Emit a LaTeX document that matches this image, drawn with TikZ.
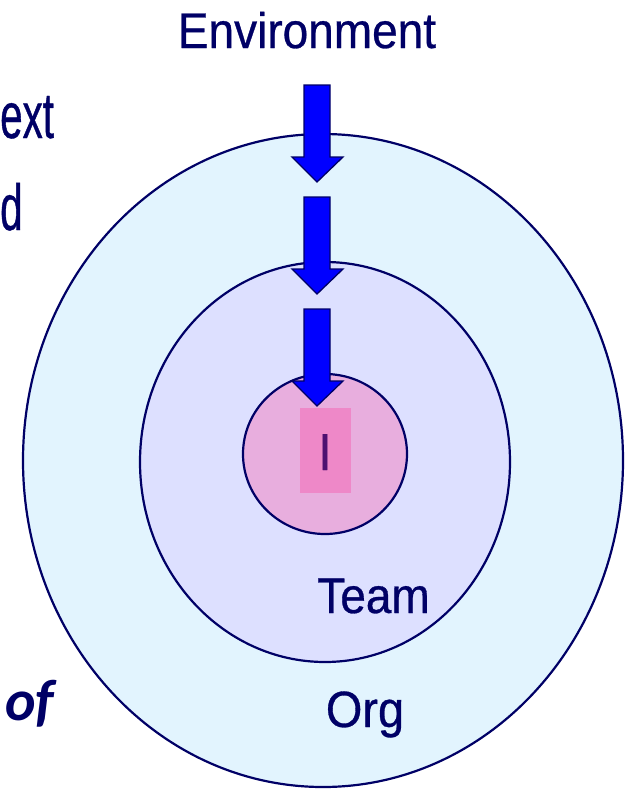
\documentclass[tikz,border=0pt]{standalone}
\usepackage{fontspec}
\setmainfont{Liberation Sans}
\newfontfamily\narrowfont[FakeStretch=0.92,FakeBold=0.6]{Liberation Sans}
\newfontfamily\condfont[FakeStretch=0.62,FakeBold=0.6]{Liberation Sans}
\newfontfamily\carlfont{Carlito}
\definecolor{navy}{RGB}{0,0,102}
\definecolor{orgfill}{RGB}{226,244,254}
\definecolor{teamfill}{RGB}{221,224,255}
\definecolor{ifill}{RGB}{232,174,222}
\definecolor{irect}{RGB}{238,136,200}
\definecolor{itext}{RGB}{78,16,112}
\definecolor{arrowblue}{RGB}{0,0,255}
\newcommand\blkarrow[2]{%
  \draw[arrowpoly] (304,#1) -- (330,#1) -- (330,#1+72) -- (343,#1+72)
    -- (317,#1+97) -- (292,#1+72) -- (304,#1+72) -- cycle;
  \coordinate (#2) at (317,#1+97);}
\tikzset{
  ring/.style={draw=navy, line width=2.2pt},
  arrowpoly/.style={fill=arrowblue, draw=navy, line width=1.3pt, line join=miter},
  lbl/.style={text=navy, inner sep=0pt, anchor=base},
}
\begin{document}
\begin{tikzpicture}[x=1pt,y=-1pt]
\useasboundingbox (0,0) rectangle (625,790);
% circles
\draw[ring, fill=orgfill] (323,460.5) ellipse [x radius=300, y radius=326.5];
\draw[ring, fill=teamfill] (325,462) ellipse [x radius=185, y radius=200];
\draw[ring, fill=ifill] (325,454) ellipse [x radius=82, y radius=80];
\fill[irect] (300,408) rectangle (351,493);
\node[lbl, text=itext, font=\narrowfont\fontsize{52}{60}\selectfont] (I) at (325,470) {I};
% labels
\node[lbl, font=\narrowfont\fontsize{50}{60}\selectfont] (env) at (307,48) {Environment};
\node[lbl, font=\narrowfont\fontsize{50}{60}\selectfont] (team) at (373.5,613) {Team};
\node[lbl, font=\narrowfont\fontsize{51}{60}\selectfont] (org) at (365,727) {Org};
\node[lbl, anchor=base west, font=\condfont\fontsize{65}{70}\selectfont] (ext) at (0,138) {ext};
\node[lbl, anchor=base west, font=\condfont\fontsize{65}{70}\selectfont] (d) at (0,230) {d};
\node[lbl, anchor=base west, font=\carlfont\bfseries\itshape\fontsize{58}{64}\selectfont] (of) at (5,720) {of};
% arrows
\blkarrow{85}{a1}
\blkarrow{197}{a2}
\blkarrow{309}{a3}
\end{tikzpicture}
\end{document}
